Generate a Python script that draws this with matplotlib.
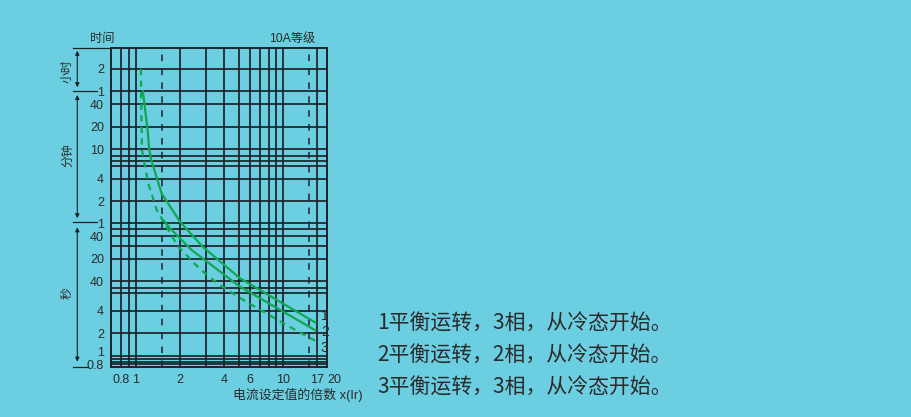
import matplotlib
matplotlib.use("Agg")
import matplotlib.pyplot as plt
from matplotlib.lines import Line2D
from matplotlib.patches import FancyArrowPatch

plt.rcParams['font.family'] = ['Liberation Sans', 'Noto Sans CJK SC', 'DejaVu Sans']

# ---------------- data ----------------
# x: multiples of current setting (Ir); y: trip time in seconds
curve1_x = [1.116, 1.16, 1.205, 1.237, 1.276, 1.50, 1.90, 2.0, 2.86, 5.1, 16.9]
curve1_y = [3700, 2006, 1081, 582, 427, 152, 74, 63, 29, 11, 2.73]

curve2_x = [1.525, 1.71, 2.40, 5.11, 16.75]
curve2_y = [68.1, 51.6, 26.3, 8.46, 2.17]

curve3_x = [1.086, 1.09, 1.103, 1.218, 1.389, 1.691, 1.946, 2.161, 2.46, 2.877,
            3.364, 3.93, 5.38, 10.05, 16.5]
curve3_y = [7130, 3000, 582, 207.6, 90.8, 46.4, 29.2, 23.8, 17.8, 13.5,
            10.4, 8.3, 5.61, 2.73, 1.59]
curve_labels = ['1', '2', '3']

x_grid_solid = [0.8, 0.9, 1, 2, 3, 4, 5, 6, 7, 8, 9, 10, 17]
x_grid_dashed = [1.5, 15]
x_ticks = [0.8, 1, 2, 4, 6, 10, 17, 20]
x_ticklabels = ['0.8', '1', '2', '4', '6', '10', '17', '20']

y_grid = [7200, 3600, 2400, 1200, 600, 480, 420, 360, 240, 120, 60, 50, 40, 30,
          20, 10, 8, 7, 4, 2, 1, 0.9, 0.83, 0.77]
y_ticks = [7200, 3600, 2400, 1200, 600, 240, 120, 60, 40, 20, 10, 4, 2, 1.15, 0.76]
y_ticklabels = ['2', '1', '40', '20', '10', '4', '2', '1', '40', '20', '40', '4', '2', '1', '0.8']

legend_lines = ['1平衡运转，3相，从冷态开始。',
                '2平衡运转，2相，从冷态开始。',
                '3平衡运转，3相，从冷态开始。']

# ---------------- style ----------------
BG = '#6CCEE1'
GRID = '#1c2328'
GREEN = '#0FA851'
TXT = '#2a2a2a'
W, H = 911, 417

fig = plt.figure(figsize=(W / 100, H / 100), dpi=100, facecolor=BG)


def px(x, y):
    return (x / W, 1 - y / H)


ax = fig.add_axes([111 / W, 1 - 367.3 / H, 216.3 / W, 319.6 / H])
ax.set_facecolor(BG)
ax.set_xscale('log')
ax.set_yscale('log')
ax.set_xlim(0.68, 20)
ax.set_ylim(0.698, 13800)

for v in x_grid_solid:
    ax.axvline(v, color=GRID, lw=1.25, zorder=1)
for v in x_grid_dashed:
    ax.axvline(v, color=GRID, lw=1.1, dashes=(4.3, 4.8), zorder=1)
for v in y_grid:
    ax.axhline(v, color=GRID, lw=1.25, zorder=1)
for s in ax.spines.values():
    s.set_color(GRID)
    s.set_linewidth(1.4)

ax.plot(curve1_x, curve1_y, color=GREEN, lw=1.6, zorder=3, solid_capstyle='butt')
ax.plot(curve2_x, curve2_y, color=GREEN, lw=1.6, zorder=3, solid_capstyle='butt')
ax.plot(curve3_x, curve3_y, color=GREEN, lw=1.6, dashes=(2.8, 2.4), zorder=3)

offsets = [(6, 5), (6.5, -1), (7, -5.5)]
for cx, cy, lab, off in zip([curve1_x, curve2_x, curve3_x], [curve1_y, curve2_y, curve3_y],
                            curve_labels, offsets):
    ax.annotate(lab, xy=(cx[-1], cy[-1]), xytext=off, textcoords='offset points',
                fontsize=10, color=TXT, ha='center', va='center', zorder=6,
                annotation_clip=False)

ax.minorticks_off()
ax.set_xticks(x_ticks)
ax.set_xticklabels(x_ticklabels)
ax.set_yticks(y_ticks)
ax.set_yticklabels(y_ticklabels)
ax.tick_params(axis='both', length=0, labelsize=9, labelcolor=TXT)
ax.tick_params(axis='x', pad=5)
ax.tick_params(axis='y', pad=5)
xl = ax.get_xticklabels()
xl[-1].set_horizontalalignment('left')

# ---- left-side decorations (unit brackets) ----
sep = [((73, 47.7), (111, 47.7)), ((73, 90.7), (97, 90.7)),
       ((73, 221.7), (97, 221.7)), ((73, 367.3), (88, 367.3))]
for a, b in sep:
    fig.add_artist(Line2D([px(*a)[0], px(*b)[0]], [px(*a)[1], px(*b)[1]],
                          color=GRID, lw=0.9))
for y0, y1 in [(50.7, 87.3), (95, 218.3), (227.3, 361.7)]:
    fig.add_artist(FancyArrowPatch(px(77.3, y0), px(77.3, y1), transform=fig.transFigure,
                                   arrowstyle='<|-|>', mutation_scale=6, lw=0.8,
                                   color=GRID, shrinkA=0, shrinkB=0))
for t, y in [('小时', 71), ('分钟', 155), ('秒', 293)]:
    fig.text(*px(68, y), t, rotation=90, ha='center', va='center', fontsize=8.5, color=TXT)

fig.text(*px(102, 39), '时间', ha='center', va='center', fontsize=8.8, color=TXT)
fig.text(*px(292, 39), '10A等级', ha='center', va='center', fontsize=8.8, color=TXT)
fig.text(*px(233, 395), '电流设定值的倍数 x(Ir)', ha='left', va='center', fontsize=9.3, color=TXT)

for i, line in enumerate(legend_lines):
    fig.text(*px(377, 324 + 32 * i), line, ha='left', va='center', fontsize=15,
             color=TXT, family=['Noto Sans CJK SC', 'DejaVu Sans'])

fig.savefig('out.png', dpi=100, facecolor=BG)
